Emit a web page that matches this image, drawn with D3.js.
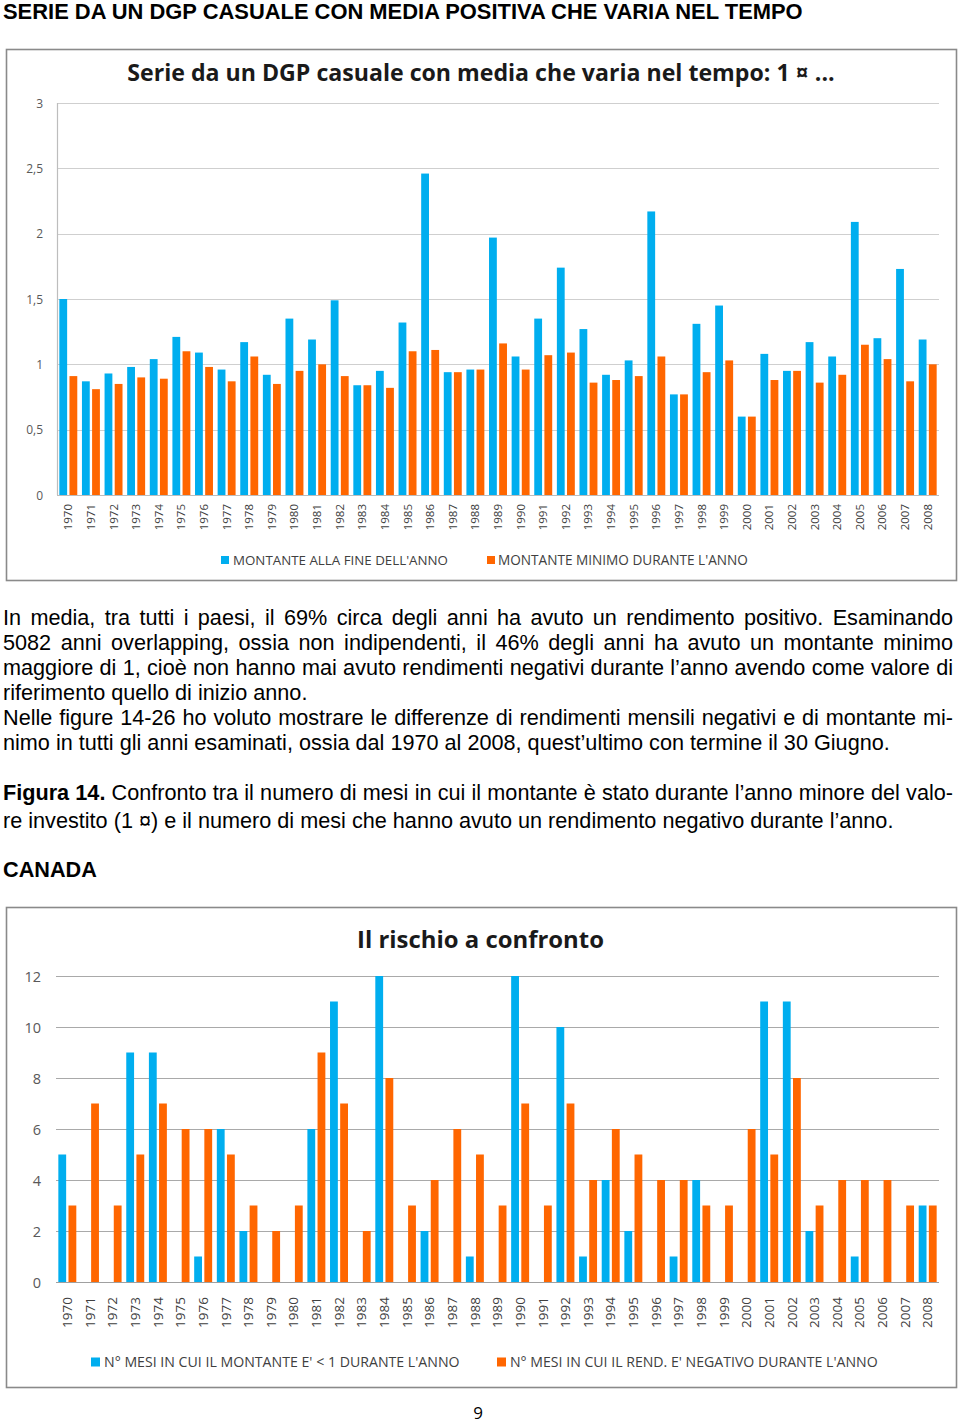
<!DOCTYPE html>
<html><head><meta charset="utf-8">
<script src="https://cdn.jsdelivr.net/npm/d3@7"></script>
<style>body{margin:0;background:#fff}svg{display:block}</style>
</head><body>
<svg id="page" width="960" height="1423"></svg>
<script>
// ---------- DATA ----------
const years = ["1970","1971","1972","1973","1974","1975","1976","1977","1978","1979",
  "1980","1981","1982","1983","1984","1985","1986","1987","1988","1989",
  "1990","1991","1992","1993","1994","1995","1996","1997","1998","1999",
  "2000","2001","2002","2003","2004","2005","2006","2007","2008"];

// Chart 1: Serie da un DGP casuale
const montanteFineAnno = [1.50,0.87,0.93,0.98,1.04,1.21,1.09,0.96,1.17,0.92,
  1.35,1.19,1.49,0.84,0.95,1.32,2.46,0.94,0.96,1.97,
  1.06,1.35,1.74,1.27,0.92,1.03,2.17,0.77,1.31,1.45,
  0.60,1.08,0.95,1.17,1.06,2.09,1.20,1.73,1.19];
const montanteMinimoAnno = [0.91,0.81,0.85,0.90,0.89,1.10,0.98,0.87,1.06,0.85,
  0.95,1.00,0.91,0.84,0.82,1.10,1.11,0.94,0.96,1.16,
  0.96,1.07,1.09,0.86,0.88,0.91,1.06,0.77,0.94,1.03,
  0.60,0.88,0.95,0.86,0.92,1.15,1.04,0.87,1.00];
const topTicks = [0,0.5,1,1.5,2,2.5,3];
const topSeriesNames = ["MONTANTE ALLA FINE DELL'ANNO","MONTANTE MINIMO DURANTE L'ANNO"];
const topTitle = "Serie da un DGP casuale con media che varia nel tempo: 1 ¤ ...";

// Chart 2: Il rischio a confronto (CANADA)
const mesiMontanteSottoUno = [5,0,0,9,9,0,1,6,2,0,
  0,6,11,0,12,0,2,0,1,0,
  12,0,10,1,4,2,0,1,4,0,
  0,11,11,2,0,1,0,0,3];
const mesiRendNegativo = [3,7,3,5,7,6,6,5,3,2,
  3,9,7,2,8,3,4,6,5,3,
  7,3,7,4,6,5,4,4,3,3,
  6,5,8,3,4,4,4,3,3];
const bottomTicks = [0,2,4,6,8,10,12];
const bottomSeriesNames = ["N° MESI IN CUI IL MONTANTE E' < 1 DURANTE L'ANNO","N° MESI IN CUI IL REND. E' NEGATIVO DURANTE L'ANNO"];
const bottomTitle = "Il rischio a confronto";

// ---------- DRAW ----------
const svg = d3.select("#page");
const BLUE = "#00aeef", ORANGE = "#ff6600";
const tmp = svg.append("text").attr("x",-9999).attr("y",-9999);
function measure(text, family, size, weight){
  tmp.attr("font-family",family).attr("font-size",size).attr("font-weight",weight||"normal").text(text);
  return tmp.node().getComputedTextLength();
}
function fitSize(text, family, weight, width){
  return 100*width/measure(text, family, 100, weight);
}

// Header
const ARIAL = "'Liberation Sans', Arial, sans-serif";
const CAL = "'Open Sans', 'Noto Sans', sans-serif";
const headerText = "SERIE DA UN DGP CASUALE CON MEDIA POSITIVA CHE VARIA NEL TEMPO";
svg.append("text").attr("x",3).attr("y",19)
  .attr("font-family",ARIAL).attr("font-weight","bold")
  .attr("font-size",fitSize(headerText,ARIAL,"bold",800))
  .attr("fill","#000").text(headerText);

function drawChart(c){
  const g = svg.append("g");
  g.append("rect").attr("x",c.box[0]).attr("y",c.box[1]).attr("width",c.box[2]).attr("height",c.box[3])
    .attr("fill","#fff").attr("stroke","#8a8a8a").attr("stroke-width",1.6);
  g.append("text").attr("x",c.titleX).attr("y",c.titleY).attr("text-anchor","middle")
    .attr("font-family",CAL).attr("font-weight","bold")
    .attr("font-size",fitSize(c.title,CAL,"bold",c.titleW)).attr("fill","#1a1a1a").text(c.title);

  const x = d3.scaleBand().domain(years).range([c.x0,c.x1]).padding(0);
  const y = d3.scaleLinear().domain(c.domain).range([c.yb,c.yt]);
  const sub = d3.scaleBand().domain([0,1]).range([0,x.bandwidth()]).padding(0.23);

  // grid
  g.append("g").selectAll("line").data(c.ticks.filter(t=>t>0)).join("line")
    .attr("x1",c.x0).attr("x2",c.x1).attr("y1",d=>Math.round(y(d))+0.5).attr("y2",d=>Math.round(y(d))+0.5)
    .attr("stroke",c.gridColor).attr("stroke-width",1.2);
  // y axis labels
  const yAxis = d3.axisLeft(y).tickValues(c.ticks).tickSize(0).tickPadding(0).tickFormat(c.fmt);
  const ya = g.append("g").attr("transform",`translate(${c.yLabelX},0)`).call(yAxis);
  ya.select(".domain").remove();
  ya.selectAll("text").attr("font-family",CAL).attr("font-size",c.yFont).attr("fill","#595959").attr("dy","0.35em");

  // bars
  const series = [c.s1, c.s2];
  const colors = [BLUE, ORANGE];
  series.forEach((s,i)=>{
    g.append("g").selectAll("rect").data(years).join("rect")
      .attr("x",(d)=>x(d)+sub(i)).attr("width",sub.bandwidth())
      .attr("y",(d,j)=>y(s[j])).attr("height",(d,j)=>y(0)-y(s[j]))
      .attr("fill",colors[i]);
  });
  // x axis line
  g.append("line").attr("x1",c.x0).attr("x2",c.x1).attr("y1",y(0)+0.5).attr("y2",y(0)+0.5)
    .attr("stroke",c.axisColor).attr("stroke-width",1.2);
  if(c.leftAxis){
    g.append("line").attr("x1",c.x0+0.5).attr("x2",c.x0+0.5).attr("y1",c.yt).attr("y2",y(0))
      .attr("stroke",c.axisColor).attr("stroke-width",1.2);
  }
  // x labels
  const xAxis = d3.axisBottom(x).tickSize(0).tickPadding(0);
  const xa = g.append("g").attr("transform",`translate(0,${c.xLabelY})`).call(xAxis);
  xa.select(".domain").remove();
  xa.selectAll("text").attr("font-family",CAL).attr("font-size",c.xFont).attr("fill","#404040")
    .attr("text-anchor","end").attr("dy","0.35em").attr("y",0)
    .attr("transform","rotate(-90)");

  // legend
  c.legend.forEach((L,i)=>{
    g.append("rect").attr("x",L.sx).attr("y",c.legY-L.sq/2).attr("width",L.sq).attr("height",L.sq).attr("fill",colors[i]);
    g.append("text").attr("x",L.tx).attr("y",c.legY).attr("dy","0.35em")
      .attr("font-family",CAL).attr("font-size",fitSize(c.names[i],CAL,"normal",L.tw))
      .attr("fill","#404040").text(c.names[i]);
  });
}

drawChart({
  box:[6.5,49.5,950,531], title:topTitle, titleX:481, titleY:81, titleW:708,
  x0:57, x1:939, yt:103, yb:495, domain:[0,3], ticks:topTicks,
  fmt:d=>String(d).replace(".",","), yLabelX:43, yFont:12,
  gridColor:"#cfcfcf", axisColor:"#bdbdbd", leftAxis:true,
  s1:montanteFineAnno, s2:montanteMinimoAnno,
  xLabelY:504, xFont:11.5,
  names:topSeriesNames, legY:560,
  legend:[{sx:221,sq:8,tx:233,tw:215},{sx:487,sq:8,tx:498,tw:250}]
});

drawChart({
  box:[6.5,907.5,950,480], title:bottomTitle, titleX:480.5, titleY:948, titleW:247,
  x0:56, x1:939, yt:976, yb:1282, domain:[0,12], ticks:bottomTicks,
  fmt:d=>String(d), yLabelX:41, yFont:14.5,
  gridColor:"#a9a9a9", axisColor:"#a0a0a0", leftAxis:false,
  s1:mesiMontanteSottoUno, s2:mesiRendNegativo,
  xLabelY:1297, xFont:13.5,
  names:bottomSeriesNames, legY:1362,
  legend:[{sx:91,sq:9,tx:104,tw:356},{sx:497,sq:9,tx:510,tw:368}]
});

// ---------- BODY TEXT ----------
const paraLines = [
  {y:625, just:true, words:[["In media, tra tutti i paesi, il 69% circa degli anni ha avuto un rendimento positivo. Esaminando",false]]},
  {y:650, just:true, words:[["5082 anni overlapping, ossia non indipendenti, il 46% degli anni ha avuto un montante minimo",false]]},
  {y:675, just:true, words:[["maggiore di 1, cioè non hanno mai avuto rendimenti negativi durante l’anno avendo come valore di",false]]},
  {y:700, just:false, words:[["riferimento quello di inizio anno.",false]]},
  {y:725, just:true, words:[["Nelle figure 14-26 ho voluto mostrare le differenze di rendimenti mensili negativi e di montante mi-",false]]},
  {y:750, just:false, words:[["nimo in tutti gli anni esaminati, ossia dal 1970 al 2008, quest’ultimo con termine il 30 Giugno.",false]]},
  {y:800, just:true, words:[["Figura 14.",true],["Confronto tra il numero di mesi in cui il montante è stato durante l’anno minore del valo-",false]]},
  {y:828, just:false, words:[["re investito (1 ¤) e il numero di mesi che hanno avuto un rendimento negativo durante l’anno.",false]]},
  {y:877, just:false, words:[["CANADA",true]]}
];
const PS = fitSize(paraLines[5].words[0][0], ARIAL, "normal", 887);
const X0 = 3, X1 = 953;
paraLines.forEach(L=>{
  const toks = [];
  L.words.forEach(([t,b])=>t.split(" ").forEach(w=>toks.push({w,b})));
  const widths = toks.map(t=>measure(t.w,ARIAL,PS,t.b?"bold":"normal"));
  const spaceW = measure("a a",ARIAL,PS)-measure("aa",ARIAL,PS);
  const total = d3.sum(widths);
  const gap = L.just ? (X1-X0-total)/(toks.length-1) : spaceW;
  const t = svg.append("text").attr("y",L.y).attr("font-family",ARIAL).attr("font-size",PS).attr("fill","#000");
  let cx = X0;
  toks.forEach((tk,i)=>{
    t.append("tspan").attr("x",cx).attr("font-weight",tk.b?"bold":"normal").text(tk.w);
    cx += widths[i]+gap;
  });
});

svg.append("text").attr("x",478).attr("y",1413).attr("dy","0.35em").attr("text-anchor","middle")
  .attr("font-family",CAL).attr("font-size",17).attr("fill","#000").text("9");
tmp.remove();
</script>
</body></html>
